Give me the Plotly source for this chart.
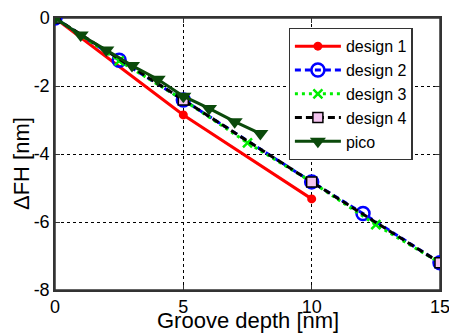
import plotly.graph_objects as go

d1_x = [0, 5, 10]
d1_y = [0, -2.85, -5.32]
d2_x = [0, 2.5, 5, 10, 12, 15]
d2_y = [0, -1.24, -2.41, -4.82, -5.75, -7.2]
d3_x = [0, 2.5, 5, 7.5, 10, 12.5, 15]
d3_y = [0, -1.26, -2.41, -3.67, -4.82, -6.08, -7.2]
d4_x = [0, 5, 10, 15]
d4_y = [0, -2.41, -4.82, -7.2]
pico_x = [0, 1, 2, 3, 4, 5, 6, 7, 8]
pico_y = [0, -0.5, -0.94, -1.4, -1.8, -2.3, -2.66, -3.05, -3.4]

x_ticks = [0, 5, 10, 15]
y_ticks = [0, -2, -4, -6, -8]

FONT = "Liberation Sans, Arial, sans-serif"

fig = go.Figure()
fig.add_trace(go.Scatter(x=d1_x, y=d1_y, name="design 1", mode="lines+markers",
                         line=dict(color="#ff0000", width=3),
                         marker=dict(symbol="circle", size=9, color="#ff0000")))
fig.add_trace(go.Scatter(x=d2_x, y=d2_y, name="design 2", mode="lines+markers",
                         line=dict(color="#0000ff", width=3, dash="6px,4px"),
                         marker=dict(symbol="circle-open", size=13, color="#0000ff",
                                     line=dict(width=2.5))))
fig.add_trace(go.Scatter(x=d3_x, y=d3_y, name="design 3", mode="lines+markers",
                         line=dict(color="#00ee00", width=3, dash="3px,4px"),
                         marker=dict(symbol="x-thin-open", size=9, color="#00ee00",
                                     line=dict(width=2.5, color="#00ee00"))))
fig.add_trace(go.Scatter(x=d4_x, y=d4_y, name="design 4", mode="lines+markers",
                         line=dict(color="#000000", width=3, dash="7px,4px"),
                         marker=dict(symbol="square", size=10, color="#f4c4f0",
                                     line=dict(width=1.5, color="#000000"))))
fig.add_trace(go.Scatter(x=pico_x, y=pico_y, name="pico", mode="lines+markers",
                         line=dict(color="#0b4a0b", width=3),
                         marker=dict(symbol="triangle-down", size=14, color="#0b4a0b")))

axis_common = dict(showline=True, linecolor="#333333", linewidth=1.5, mirror="ticks",
                   ticks="inside", ticklen=5, tickcolor="#333333", automargin=False,
                   ticklabeloverflow="allow",
                   showgrid=True, gridcolor="#000000", gridwidth=1, griddash="3px,3px",
                   zeroline=False, tickfont=dict(family=FONT, size=18, color="#000000"))

fig.update_layout(
    template="none",
    width=449, height=333,
    margin=dict(l=55, r=9, t=18, b=43),
    paper_bgcolor="white", plot_bgcolor="white",
    font=dict(family=FONT, color="#000000"),
    xaxis=dict(range=[0, 15], tickvals=x_ticks, ticktext=[str(v) for v in x_ticks],
               **axis_common),
    yaxis=dict(range=[-8, 0], tickvals=y_ticks, ticktext=[str(v) for v in y_ticks],
               **axis_common),
    legend=dict(x=0.607, y=0.963, xanchor="left", yanchor="top",
                bgcolor="white", bordercolor="#333333", borderwidth=1.2,
                itemwidth=46,
                font=dict(family=FONT, size=16, color="#000000"), tracegroupgap=0),
    showlegend=True,
    shapes=[dict(type="rect", xref="paper", yref="paper", x0=0, y0=0, x1=1, y1=1,
                 line=dict(color="#333333", width=1.5), layer="below")],
    annotations=[
        dict(text="Groove depth [nm]", xref="paper", yref="paper", x=0.5, y=0,
             xanchor="center", yanchor="middle", yshift=-30, showarrow=False,
             font=dict(family=FONT, size=22, color="#000000")),
        dict(text="ΔFH [nm]", xref="paper", yref="paper", x=0, y=0.463,
             xanchor="center", yanchor="middle", xshift=-34, textangle=-90,
             showarrow=False, font=dict(family=FONT, size=22, color="#000000")),
    ],
)

fig.write_html(
    "out.html",
    config={"displayModeBar": False},
    post_script="document.body.style.margin='0';document.body.style.overflow='hidden';",
)
